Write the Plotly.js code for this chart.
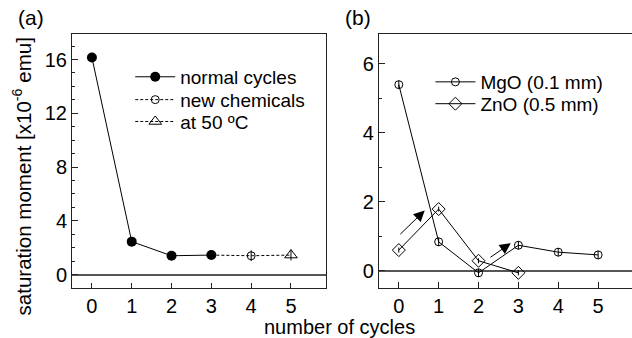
<!DOCTYPE html>
<html>
<head>
<meta charset="utf-8">
<script src="https://cdn.plot.ly/plotly-3.0.1.min.js"></script>
<style>html,body{margin:0;padding:0;background:#fff;}#plot{width:632px;height:338px;}</style>
</head>
<body>
<div id="plot"></div>
<script>
// ---- data (panel a) ----
var normalX = [0, 1, 2, 3];
var normalY = [16.15, 2.45, 1.4, 1.45];
var newChemX = [4];
var newChemY = [1.4];
var at50X = [5];
var at50Y = [1.45];
var errA = [0.4];
// ---- data (panel b) ----
var mgoX = [0, 1, 2, 3, 4, 5];
var mgoY = [5.4, 0.84, -0.06, 0.74, 0.54, 0.46];
var znoX = [0, 1, 2, 3];
var znoY = [0.6, 1.79, 0.29, -0.06];
var errB = 0.12;
var xTicks = [0, 1, 2, 3, 4, 5];
var yTicksA = [0, 4, 8, 12, 16];
var yTicksB = [0, 2, 4, 6];

var FONT = 'Liberation Sans, Arial, sans-serif';
var dash = '3px,2px';

var traces = [
  // dashed connector 3 -> 4 -> 5
  {x: [normalX[3]].concat(newChemX, at50X), y: [normalY[3]].concat(newChemY, at50Y),
   mode: 'lines', line: {color: '#000', width: 1, dash: dash}, showlegend: false, hoverinfo: 'skip'},
  {x: normalX, y: normalY, name: 'normal cycles', mode: 'lines+markers', legend: 'legend',
   line: {color: '#000', width: 1}, marker: {symbol: 'circle', size: 10, color: '#000'}},
  {x: newChemX, y: newChemY, name: 'new chemicals', mode: 'lines+markers', legend: 'legend2',
   line: {color: '#000', width: 1, dash: dash},
   marker: {symbol: 'circle-open', size: 8, color: '#000', line: {width: 1}},
   error_y: {type: 'data', array: errA, width: 0, thickness: 1, color: '#000'}},
  {x: at50X, y: at50Y, name: 'at 50 ºC', mode: 'lines+markers', legend: 'legend3',
   line: {color: '#000', width: 1, dash: dash},
   marker: {symbol: 'triangle-up-open', size: 11, color: '#000', line: {width: 1}},
   error_y: {type: 'data', array: errA, width: 0, thickness: 1, color: '#000'}},
  {x: mgoX, y: mgoY, name: 'MgO (0.1 mm)', mode: 'lines+markers', xaxis: 'x2', yaxis: 'y2', legend: 'legend4',
   line: {color: '#000', width: 1},
   marker: {symbol: 'circle-open', size: 8, color: '#000', line: {width: 1}},
   error_y: {type: 'constant', value: errB, width: 0, thickness: 1, color: '#000'}},
  {x: znoX, y: znoY, name: 'ZnO (0.5 mm)', mode: 'lines+markers', xaxis: 'x2', yaxis: 'y2', legend: 'legend5',
   line: {color: '#000', width: 1},
   marker: {symbol: 'diamond-open', size: 10, color: '#000', line: {width: 1}},
   error_y: {type: 'constant', value: errB * 0.6, width: 0, thickness: 1, color: '#000'}}
];

var axCommon = {
  showgrid: false, showline: true, linecolor: '#222', linewidth: 1, mirror: true,
  ticks: 'inside', tickcolor: '#222', tickwidth: 1,
  tickfont: {family: FONT, size: 20, color: '#000'}, fixedrange: true
};

function leg(x, y) {
  return {x: x, y: y, xanchor: 'left', yanchor: 'middle', bgcolor: 'rgba(0,0,0,0)',
    font: {family: FONT, size: 19, color: '#000'}, itemwidth: 40, tracegroupgap: 0};
}

var layout = {
  width: 632, height: 338,
  margin: {l: 72, r: 0, t: 34, b: 50},
  paper_bgcolor: '#fff', plot_bgcolor: '#fff',
  font: {family: FONT, size: 19, color: '#000'},
  xaxis: Object.assign({}, axCommon, {domain: [0, 0.4536], range: [-0.5, 5.88],
    tickvals: xTicks, ticklen: 5, zeroline: false, anchor: 'y'}),
  yaxis: Object.assign({}, axCommon, {domain: [0, 1], range: [-1, 17.9],
    tickvals: yTicksA, ticklen: 6, zeroline: true, zerolinecolor: '#555', zerolinewidth: 2,
    minor: {dtick: 1, ticks: 'inside', ticklen: 3, tickcolor: '#222'}, anchor: 'x'}),
  xaxis2: Object.assign({}, axCommon, {domain: [0.548, 1], range: [-0.5, 5.85],
    tickvals: xTicks, ticklen: 6, zeroline: false, anchor: 'y2'}),
  yaxis2: Object.assign({}, axCommon, {domain: [0, 1], range: [-0.5, 6.87], mirror: false,
    tickvals: yTicksB, ticklen: 6, zeroline: true, zerolinecolor: '#555', zerolinewidth: 2,
    minor: {dtick: 1, ticks: 'inside', ticklen: 3, tickcolor: '#222'}, anchor: 'x2'}),
  legend: leg(0.104, 0.831),
  legend2: leg(0.104, 0.741),
  legend3: leg(0.104, 0.655),
  legend4: leg(0.64, 0.811),
  legend5: leg(0.64, 0.725),
  showlegend: true,
  annotations: [
    {text: '(a)', xref: 'paper', yref: 'paper', x: -0.1, y: 1.065, xanchor: 'left', yanchor: 'middle',
     showarrow: false, font: {family: FONT, size: 21}},
    {text: '(b)', xref: 'paper', yref: 'paper', x: 0.484, y: 1.065, xanchor: 'left', yanchor: 'middle',
     showarrow: false, font: {family: FONT, size: 21}},
    {text: 'saturation moment [x10<sup>-6</sup> emu]', xref: 'paper', yref: 'paper', x: -0.089, y: 0.44,
     textangle: -90, xanchor: 'center', yanchor: 'middle', showarrow: false, font: {family: FONT, size: 20.5}},
    {text: 'number of cycles', xref: 'paper', yref: 'paper', x: 0.4768, y: -0.152,
     xanchor: 'center', yanchor: 'middle', showarrow: false, font: {family: FONT, size: 20}},
    {x: 0.65, y: 1.75, xref: 'x2', yref: 'y2', ax: 0, ay: 1.02, axref: 'x2', ayref: 'y2',
     text: '', showarrow: true, arrowhead: 2, arrowsize: 2.2, arrowwidth: 1, arrowcolor: '#000'},
    {x: 2.81, y: 0.8, xref: 'x2', yref: 'y2', ax: 2.26, ay: 0.36, axref: 'x2', ayref: 'y2',
     text: '', showarrow: true, arrowhead: 2, arrowsize: 2.2, arrowwidth: 1, arrowcolor: '#000'}
  ]
};

Plotly.newPlot('plot', traces, layout, {staticPlot: true, displayModeBar: false});
</script>
</body>
</html>
